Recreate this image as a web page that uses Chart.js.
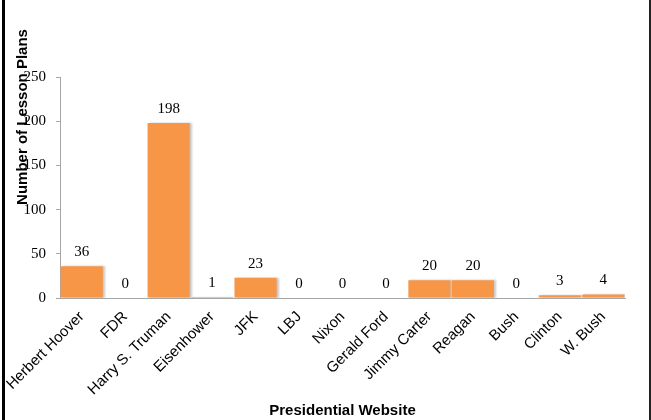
<!DOCTYPE html>
<html>
<head>
<meta charset="utf-8">
<script src="https://cdn.jsdelivr.net/npm/chart.js@4.4.1/dist/chart.umd.min.js"></script>
<style>
  html, body { margin: 0; padding: 0; background: #fff; }
  #wrap { width: 651px; height: 420px; position: relative; }
</style>
</head>
<body>
<div id="wrap"><canvas id="c" width="651" height="420"></canvas></div>
<script>
const categories = ['Herbert Hoover', 'FDR', 'Harry S. Truman', 'Eisenhower', 'JFK', 'LBJ', 'Nixon', 'Gerald Ford', 'Jimmy Carter', 'Reagan', 'Bush', 'Clinton', 'W. Bush'];
const lessonPlans = [36, 0, 198, 1, 23, 0, 0, 0, 20, 20, 0, 3, 4];
const yTickValues = [0, 50, 100, 150, 200, 250];
const xTitle = 'Presidential Website';
const yTitle = 'Number of Lesson Plans';

const frame = {
  id: 'frame',
  beforeDraw(chart) {
    const ctx = chart.ctx;
    ctx.save();
    ctx.fillStyle = '#fff';
    ctx.fillRect(0, 0, chart.width, chart.height);
    ctx.fillStyle = '#000';
    ctx.fillRect(2, 0, 3, chart.height);
    ctx.fillStyle = '#222';
    ctx.fillRect(649, 0, 2, chart.height);
    ctx.restore();
  },
  afterDraw(chart) {
    const ctx = chart.ctx;
    ctx.save();
    ctx.translate(23, 117);
    ctx.rotate(-Math.PI / 2);
    ctx.font = 'bold 15px "Liberation Sans", Arial, sans-serif';
    ctx.fillStyle = '#000';
    ctx.textAlign = 'center';
    ctx.textBaseline = 'middle';
    ctx.fillText(yTitle, 0, 0);
    ctx.restore();
  }
};

const shadow = {
  id: 'shadow',
  beforeDatasetDraw(chart) {
    const ctx = chart.ctx;
    ctx.save();
    ctx.shadowColor = 'rgba(0,0,0,0.22)';
    ctx.shadowOffsetX = 2;
    ctx.shadowOffsetY = 0;
    ctx.shadowBlur = 2;
  },
  afterDatasetDraw(chart) {
    chart.ctx.restore();
  }
};

const valueLabels = {
  id: 'valueLabels',
  afterDatasetsDraw(chart) {
    const ctx = chart.ctx;
    const meta = chart.getDatasetMeta(0);
    ctx.save();
    ctx.font = '15px "Liberation Serif", "Times New Roman", serif';
    ctx.fillStyle = '#000';
    ctx.textAlign = 'center';
    ctx.textBaseline = 'middle';
    meta.data.forEach((bar, i) => {
      ctx.fillText(String(lessonPlans[i]), bar.x, bar.y - 14);
    });
    ctx.restore();
  }
};

new Chart(document.getElementById('c'), {
  type: 'bar',
  data: {
    labels: categories,
    datasets: [{
      data: lessonPlans,
      backgroundColor: '#F79646',
      borderWidth: 0,
      barPercentage: 0.97,
      categoryPercentage: 1.0
    }]
  },
  options: {
    responsive: false,
    animation: false,
    layout: { padding: { left: 0, right: 26, top: 77, bottom: 0 } },
    plugins: {
      legend: { display: false },
      tooltip: { enabled: false }
    },
    scales: {
      x: {
        grid: { display: false },
        border: { display: true, color: '#a6a6a6', width: 1 },
        ticks: {
          autoSkip: false,
          minRotation: 45,
          maxRotation: 45,
          padding: 2,
          color: '#000',
          font: { family: '"Liberation Sans", Arial, sans-serif', size: 15 }
        },
        title: {
          display: true,
          text: xTitle,
          color: '#000',
          font: { family: '"Liberation Sans", Arial, sans-serif', size: 15, weight: 'bold' },
          padding: { top: 0, bottom: 0 }
        },
        afterFit(scale) { scale.height = 122; }
      },
      y: {
        min: 0,
        max: 250,
        afterBuildTicks(scale) { scale.ticks = yTickValues.map(v => ({ value: v })); },
        grid: { drawOnChartArea: false, drawTicks: true, tickLength: 4, color: '#a6a6a6' },
        border: { display: true, color: '#a6a6a6', width: 1 },
        ticks: {
          padding: 10,
          color: '#000',
          font: { family: '"Liberation Serif", "Times New Roman", serif', size: 15 }
        },
        afterFit(scale) { scale.width = 60; }
      }
    }
  },
  plugins: [frame, shadow, valueLabels]
});
</script>
</body>
</html>
